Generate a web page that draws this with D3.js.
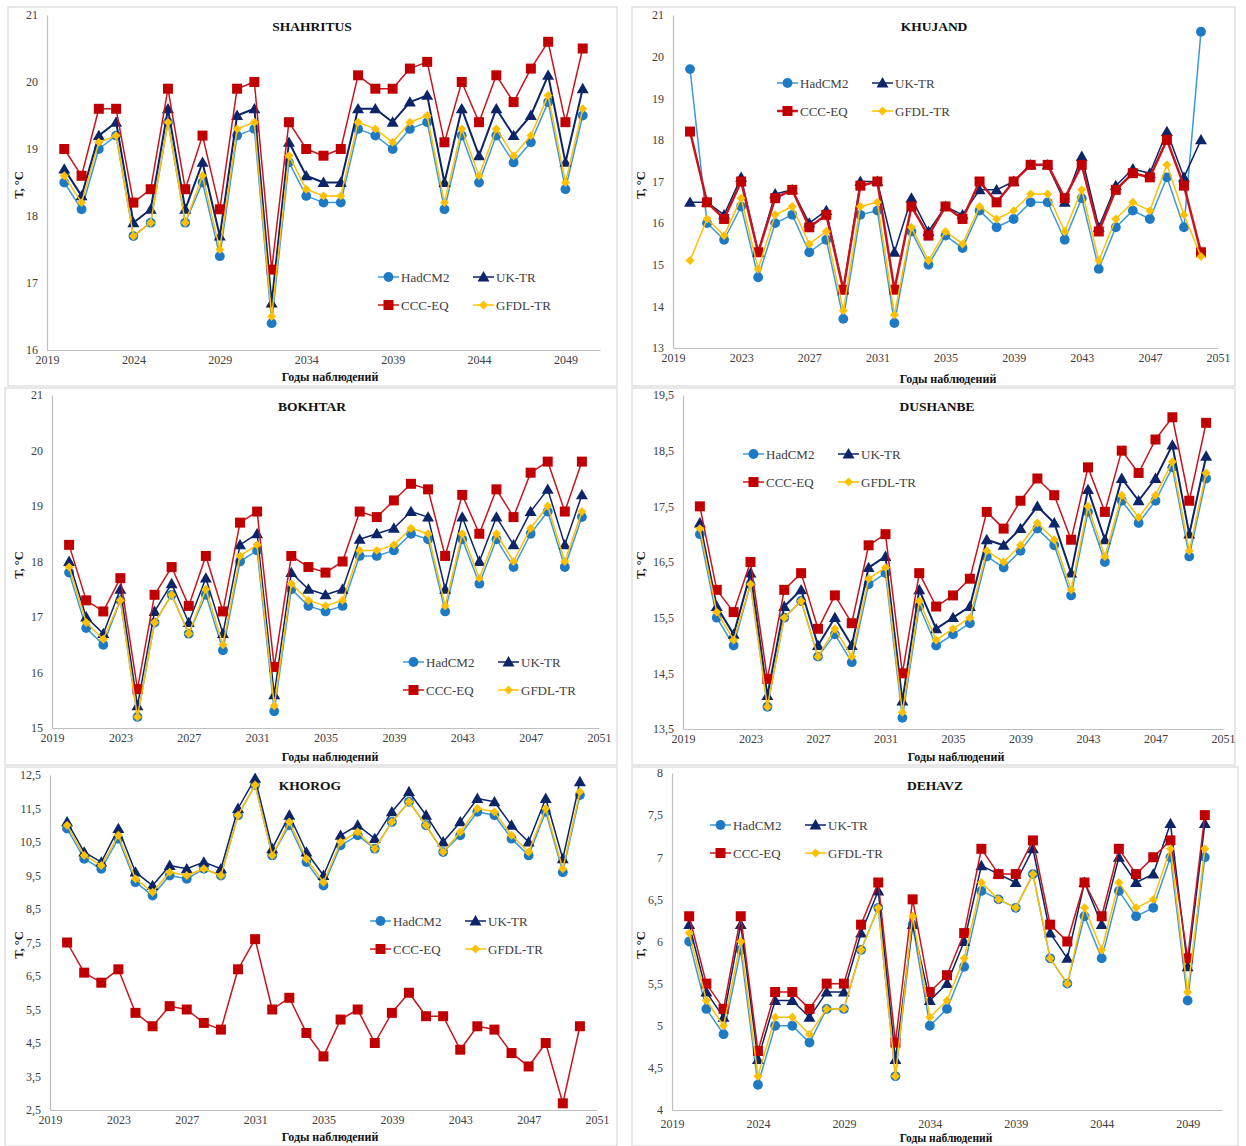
<!DOCTYPE html>
<html><head><meta charset="utf-8">
<script src="https://cdn.jsdelivr.net/npm/d3@7/dist/d3.min.js"></script>
<style>body{margin:0;background:#fff}</style>
</head><body>
<svg id="c" width="1246" height="1146"></svg>
<script>
const years = [2020,2021,2022,2023,2024,2025,2026,2027,2028,2029,2030,2031,2032,2033,2034,2035,2036,2037,2038,2039,2040,2041,2042,2043,2044,2045,2046,2047,2048,2049,2050];
const seriesNames = ["HadCM2","UK-TR","CCC-EQ","GFDL-TR"];
const stationNames = ["SHAHRITUS","KHUJAND","BOKHTAR","DUSHANBE","KHOROG","DEHAVZ"];
const xAxisTitle = "Годы наблюдений";
const yAxisTitle = "T, °C";

// SHAHRITUS
const shahritusHad  = [18.5,18.1,19.0,19.2,17.7,17.9,19.4,17.9,18.5,17.4,19.2,19.3,16.4,18.8,18.3,18.2,18.2,19.3,19.2,19.0,19.3,19.4,18.1,19.2,18.5,19.2,18.8,19.1,19.7,18.4,19.5];
const shahritusUK   = [18.7,18.3,19.2,19.4,17.9,18.1,19.6,18.1,18.8,17.7,19.5,19.6,16.7,19.1,18.6,18.5,18.5,19.6,19.6,19.4,19.7,19.8,18.5,19.6,18.9,19.6,19.2,19.5,20.1,18.8,19.9];
const shahritusCCC  = [19.0,18.6,19.6,19.6,18.2,18.4,19.9,18.4,19.2,18.1,19.9,20.0,17.2,19.4,19.0,18.9,19.0,20.1,19.9,19.9,20.2,20.3,19.1,20.0,19.4,20.1,19.7,20.2,20.6,19.4,20.5];
const shahritusGFDL = [18.6,18.2,19.1,19.2,17.7,17.9,19.4,17.9,18.6,17.5,19.3,19.4,16.5,18.9,18.4,18.3,18.3,19.4,19.3,19.1,19.4,19.5,18.2,19.3,18.6,19.3,18.9,19.2,19.8,18.5,19.6];
// KHUJAND
const khujandHad  = [19.7,16.0,15.6,16.4,14.7,16.0,16.2,15.3,15.6,13.7,16.2,16.3,13.6,15.8,15.0,15.7,15.4,16.3,15.9,16.1,16.5,16.5,15.6,16.6,14.9,15.9,16.3,16.1,17.1,15.9,20.6];
const khujandUK   = [16.5,16.5,16.2,17.1,15.3,16.7,16.8,16.0,16.3,14.4,17.0,17.0,15.3,16.6,15.8,16.4,16.2,16.8,16.8,17.0,17.4,17.4,16.5,17.6,15.9,16.9,17.3,17.2,18.2,17.1,18.0];
const khujandCCC  = [18.2,16.5,16.1,17.0,15.3,16.6,16.8,15.9,16.2,14.4,16.9,17.0,14.4,16.4,15.7,16.4,16.1,17.0,16.5,17.0,17.4,17.4,16.6,17.4,15.8,16.8,17.2,17.1,18.0,16.9,15.3];
const khujandGFDL = [15.1,16.1,15.7,16.6,14.9,16.2,16.4,15.5,15.8,13.9,16.4,16.5,13.8,15.9,15.1,15.8,15.5,16.4,16.1,16.3,16.7,16.7,15.8,16.8,15.1,16.1,16.5,16.3,17.4,16.2,15.2];
// BOKHTAR
const bokhtarHad  = [17.8,16.8,16.5,17.3,15.2,16.9,17.4,16.7,17.4,16.4,18.0,18.2,15.3,17.5,17.2,17.1,17.2,18.1,18.1,18.2,18.5,18.4,17.1,18.4,17.6,18.4,17.9,18.5,18.9,17.9,18.8];
const bokhtarUK   = [18.0,17.0,16.7,17.5,15.4,17.1,17.6,16.9,17.7,16.7,18.3,18.5,15.6,17.8,17.5,17.4,17.5,18.4,18.5,18.6,18.9,18.8,17.5,18.8,18.0,18.8,18.3,18.9,19.3,18.3,19.2];
const bokhtarCCC  = [18.3,17.3,17.1,17.7,15.7,17.4,17.9,17.2,18.1,17.1,18.7,18.9,16.1,18.1,17.9,17.8,18.0,18.9,18.8,19.1,19.4,19.3,18.1,19.2,18.5,19.3,18.8,19.6,19.8,18.9,19.8];
const bokhtarGFDL = [17.9,16.9,16.6,17.3,15.2,16.9,17.4,16.7,17.5,16.5,18.1,18.3,15.4,17.6,17.3,17.2,17.3,18.2,18.2,18.3,18.6,18.5,17.2,18.5,17.7,18.5,18.0,18.6,19.0,18.0,18.9];
// DUSHANBE
const dushanbeHad  = [17.0,15.5,15.0,16.1,13.9,15.5,15.8,14.8,15.2,14.7,16.1,16.3,13.7,15.7,15.0,15.2,15.4,16.6,16.4,16.7,17.1,16.8,15.9,17.4,16.5,17.6,17.2,17.6,18.2,16.6,18.0];
const dushanbeUK   = [17.2,15.7,15.2,16.3,14.1,15.7,16.0,15.0,15.5,15.0,16.4,16.6,14.0,16.0,15.3,15.5,15.7,16.9,16.8,17.1,17.5,17.2,16.3,17.8,16.9,18.0,17.6,18.0,18.6,17.0,18.4];
const dushanbeCCC  = [17.5,16.0,15.6,16.5,14.4,16.0,16.3,15.3,15.9,15.4,16.8,17.0,14.5,16.3,15.7,15.9,16.2,17.4,17.1,17.6,18.0,17.7,16.9,18.2,17.4,18.5,18.1,18.7,19.1,17.6,19.0];
const dushanbeGFDL = [17.1,15.6,15.1,16.1,13.9,15.5,15.8,14.8,15.3,14.8,16.2,16.4,13.8,15.8,15.1,15.3,15.5,16.7,16.5,16.8,17.2,16.9,16.0,17.5,16.6,17.7,17.3,17.7,18.3,16.7,18.1];
// KHOROG
const khorogHad  = [10.9,10.0,9.7,10.6,9.3,8.9,9.5,9.4,9.7,9.5,11.3,12.2,10.1,11.0,9.9,9.2,10.4,10.7,10.3,11.1,11.7,11.0,10.2,10.7,11.4,11.3,10.6,10.1,11.4,9.6,11.9];
const khorogUK   = [11.1,10.2,9.9,10.9,9.6,9.2,9.8,9.7,9.9,9.7,11.5,12.4,10.3,11.3,10.2,9.5,10.7,11.0,10.6,11.4,12.0,11.3,10.5,11.1,11.8,11.7,11.0,10.5,11.8,10.0,12.3];
const khorogCCC  = [7.5,6.6,6.3,6.7,5.4,5.0,5.6,5.5,5.1,4.9,6.7,7.6,5.5,5.85,4.8,4.1,5.2,5.5,4.5,5.4,6.0,5.3,5.3,4.3,5.0,4.9,4.2,3.8,4.5,2.7,5.0];
const khorogGFDL = [11.0,10.1,9.8,10.7,9.4,9.0,9.6,9.5,9.7,9.5,11.3,12.2,10.1,11.1,10.0,9.3,10.5,10.8,10.3,11.1,11.7,11.0,10.2,10.8,11.5,11.4,10.7,10.2,11.5,9.7,12.0];
// DEHAVZ
const dehavzHad  = [6.0,5.2,4.9,5.9,4.3,5.0,5.0,4.8,5.2,5.2,5.9,6.4,4.4,6.2,5.0,5.2,5.7,6.6,6.5,6.4,6.8,5.8,5.5,6.3,5.8,6.6,6.3,6.4,7.0,5.3,7.0];
const dehavzUK   = [6.2,5.4,5.1,6.2,4.6,5.3,5.3,5.1,5.4,5.4,6.1,6.6,4.6,6.2,5.3,5.5,6.0,6.9,6.8,6.7,7.1,6.1,5.8,6.7,6.2,7.0,6.7,6.8,7.4,5.7,7.4];
const dehavzCCC  = [6.3,5.5,5.2,6.3,4.7,5.4,5.4,5.2,5.5,5.5,6.2,6.7,4.8,6.5,5.4,5.6,6.1,7.1,6.8,6.8,7.2,6.2,6.0,6.7,6.3,7.1,6.8,7.0,7.2,5.8,7.5];
const dehavzGFDL = [6.1,5.3,5.0,6.0,4.4,5.1,5.1,4.9,5.2,5.2,5.9,6.4,4.4,6.3,5.1,5.3,5.8,6.7,6.5,6.4,6.8,5.8,5.5,6.4,5.9,6.7,6.4,6.5,7.1,5.4,7.1];

// tick values
const yTicksShahritus = [16,17,18,19,20,21];
const yTicksKhujand   = [13,14,15,16,17,18,19,20,21];
const yTicksBokhtar   = [15,16,17,18,19,20,21];
const yTicksDushanbe  = [13.5,14.5,15.5,16.5,17.5,18.5,19.5];
const yTicksKhorog    = [2.5,3.5,4.5,5.5,6.5,7.5,8.5,9.5,10.5,11.5,12.5];
const yTicksDehavz    = [4,4.5,5,5.5,6,6.5,7,7.5,8];
const xTicksStep5 = [2019,2024,2029,2034,2039,2044,2049];
const xTicksStep4 = [2019,2023,2027,2031,2035,2039,2043,2047,2051];

// ---------- layout & styles ----------
const styles = [
  {color:"#1f7ac4", line:"#3a9ad9", sym:"circle"},
  {color:"#0c2468", line:"#0c2468", sym:"triangle"},
  {color:"#c00000", line:"#c8141c", sym:"square"},
  {color:"#ffc000", line:"#ffc000", sym:"diamond"}
];
const panels = [
  {data:[shahritusHad,shahritusUK,shahritusCCC,shahritusGFDL], yTicks:yTicksShahritus, xTicks:xTicksStep5,
   box:[8,7,609,379], x0:47, x1:600, yT:15, yB:350, leg:[378,277], title:[312,26], xt:[330,381], yt:[19,185], lw:[1.5,2,1.5,1.5], xPad:5, xtSize:12},
  {data:[khujandHad,khujandUK,khujandCCC,khujandGFDL], yTicks:yTicksKhujand, xTicks:xTicksStep4,
   box:[632,7,603,379], x0:673, x1:1218, yT:15, yB:348, leg:[777,83], title:[934,26], xt:[948,383], yt:[641,185], lw:[1.5,1.5,2.5,1.5], xPad:5, xtSize:12},
  {data:[bokhtarHad,bokhtarUK,bokhtarCCC,bokhtarGFDL], yTicks:yTicksBokhtar, xTicks:xTicksStep4,
   box:[5,388,612,377], x0:52, x1:599, yT:395, yB:728, leg:[403,662], title:[312,406], xt:[330,761], yt:[19,565], lw:[1.5,1.5,1.5,1.5], xPad:5, xtSize:12},
  {data:[dushanbeHad,dushanbeUK,dushanbeCCC,dushanbeGFDL], yTicks:yTicksDushanbe, xTicks:xTicksStep4,
   box:[632,388,603,377], x0:683, x1:1223, yT:395, yB:729, leg:[743,454], title:[937,406], xt:[956,761], yt:[641,565], lw:[1.5,2,1.5,1.5], xPad:5, xtSize:12},
  {data:[khorogHad,khorogUK,khorogCCC,khorogGFDL], yTicks:yTicksKhorog, xTicks:xTicksStep4,
   box:[5,767,612,379], x0:50, x1:597, yT:775, yB:1110, leg:[370,921], title:[310,785], xt:[330,1141], yt:[19,945], lw:[1.5,1.5,1.5,1.5], xPad:5, xtSize:12},
  {data:[dehavzHad,dehavzUK,dehavzCCC,dehavzGFDL], yTicks:yTicksDehavz, xTicks:xTicksStep5,
   box:[632,767,606,379], x0:672, x1:1222, yT:773, yB:1110, leg:[710,825], title:[935,785], xt:[946,1142], yt:[641,945], lw:[1.5,1.5,1.5,1.5], xPad:9, xtSize:11.5}
];
const legendDX = [0, 95];
const legendDY = 28;

const svg = d3.select("#c");
const FONT = "'Liberation Serif','Times New Roman',serif";
const fmt = d => String(d).replace(".", ",");

const SZ = {circle:76, square:100, triangle:62, diamond:40};
function symPath(type) {
  if (type === "circle") return d3.symbol().type(d3.symbolCircle).size(SZ.circle)();
  if (type === "square") return d3.symbol().type(d3.symbolSquare).size(SZ.square)();
  if (type === "triangle") return d3.symbol().type(d3.symbolTriangle).size(SZ.triangle)();
  return d3.symbol().type(d3.symbolSquare).size(SZ.diamond)();
}

function drawMarker(g, type, x, y, color) {
  g.append("path").attr("d", symPath(type)).attr("fill", color)
    .attr("transform", `translate(${x},${y})` + (type === "diamond" ? " rotate(45)" : (type==="triangle" ? " translate(0,1)" : "")));
}

panels.forEach((P, pi) => {
  const g = svg.append("g");
  g.append("rect").attr("x", P.box[0]).attr("y", P.box[1]).attr("width", P.box[2]).attr("height", P.box[3])
    .attr("fill", "#fff").attr("stroke", "#d9d9d9").attr("stroke-width", 1.2);

  const yMin = d3.min(P.yTicks), yMax = d3.max(P.yTicks);
  const x = d3.scaleLinear().domain([2019, 2051]).range([P.x0, P.x1]);
  const y = d3.scaleLinear().domain([yMin, yMax]).range([P.yB, P.yT]);

  const xa = g.append("g").attr("transform", `translate(0,${P.yB})`)
    .call(d3.axisBottom(x).tickValues(P.xTicks).tickFormat(d3.format("d")).tickSize(0).tickPadding(P.xPad));
  const ya = g.append("g").attr("transform", `translate(${P.x0},0)`)
    .call(d3.axisLeft(y).tickValues(P.yTicks).tickFormat(fmt).tickSize(0).tickPadding(9));
  [xa, ya].forEach(a => {
    a.select(".domain").attr("stroke", "#bfbfbf").attr("stroke-width", 1.2);
    a.selectAll("text").attr("font-family", FONT).attr("font-size", 12).attr("fill", "#404040");
  });

  [0, 1, 2, 3].forEach(si => {
    const st = styles[si];
    const vals = P.data[si];
    const line = d3.line().x((d, i) => x(years[i])).y(d => y(d));
    g.append("path").datum(vals).attr("d", line).attr("fill", "none")
      .attr("stroke", st.line).attr("stroke-width", P.lw[si]).attr("stroke-linejoin", "round");
    vals.forEach((v, i) => drawMarker(g, st.sym, x(years[i]), y(v), st.color));
  });

  seriesNames.forEach((name, si) => {
    const st = styles[si];
    const lx = P.leg[0] + legendDX[si % 2];
    const ly = P.leg[1] + (si >= 2 ? legendDY : 0);
    g.append("line").attr("x1", lx).attr("x2", lx + 21).attr("y1", ly).attr("y2", ly)
      .attr("stroke", st.line).attr("stroke-width", si === 2 && pi === 1 ? 2.5 : 1.5);
    drawMarker(g, st.sym, lx + 10.5, ly, st.color);
    g.append("text").attr("x", lx + 23).attr("y", ly + 4.5).text(name)
      .attr("font-family", FONT).attr("font-size", 13).attr("fill", "#404040");
  });

  g.append("text").attr("x", P.title[0]).attr("y", P.title[1] + 5).attr("text-anchor", "middle")
    .attr("font-family", FONT).attr("font-size", 13.5).attr("font-weight", "bold").attr("fill", "#111")
    .text(stationNames[pi]);
  // x-axis title: y given as baseline
  g.append("text").attr("x", P.xt[0]).attr("y", P.xt[1]).attr("text-anchor", "middle")
    .attr("font-family", FONT).attr("font-size", P.xtSize).attr("font-weight", "bold").attr("fill", "#111")
    .text(xAxisTitle);
  g.append("text").attr("transform", `translate(${P.yt[0] + 4},${P.yt[1]}) rotate(-90)`).attr("text-anchor", "middle")
    .attr("font-family", FONT).attr("font-size", 12.5).attr("font-weight", "bold").attr("fill", "#111")
    .text(yAxisTitle);
});
</script>
</body></html>
